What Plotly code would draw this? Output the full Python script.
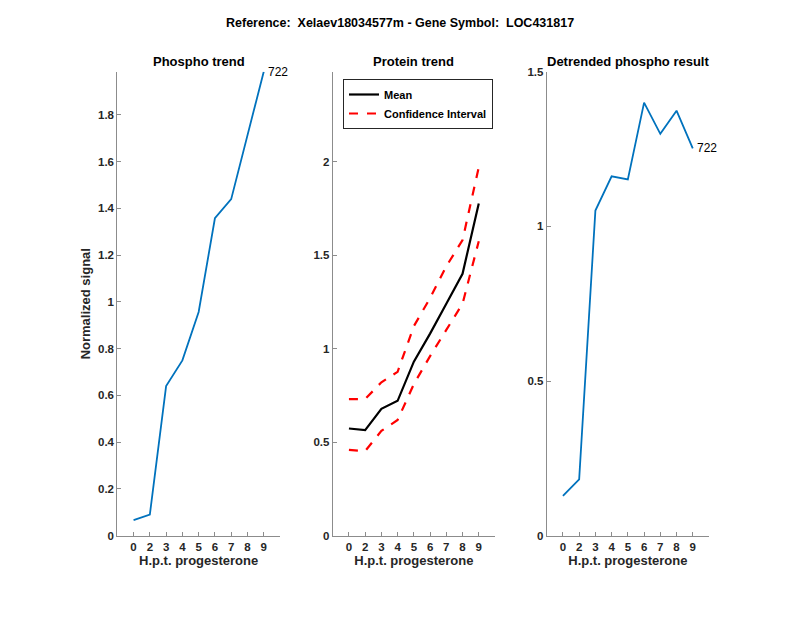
import plotly.graph_objects as go

# ---- data ----
hours = ["0", "2", "3", "4", "5", "6", "7", "8", "9"]
phospho = [0.067, 0.09, 0.64, 0.75, 0.957, 1.358, 1.44, 1.71, 1.985]
protein_mean = [0.573, 0.564, 0.678, 0.721, 0.93, 1.08, 1.24, 1.40, 1.776]
protein_upper = [0.73, 0.73, 0.82, 0.876, 1.12, 1.27, 1.44, 1.58, 1.97]
protein_lower = [0.459, 0.452, 0.56, 0.619, 0.81, 0.96, 1.10, 1.24, 1.574]
detrended = [0.129, 0.182, 1.051, 1.162, 1.152, 1.40, 1.299, 1.374, 1.252]
label_id = "722"

left_ticks = [0, 0.2, 0.4, 0.6, 0.8, 1.0, 1.2, 1.4, 1.6, 1.8]
left_ticktext = ["0", "0.2", "0.4", "0.6", "0.8", "1", "1.2", "1.4", "1.6", "1.8"]
mid_ticks = [0, 0.5, 1.0, 1.5, 2.0]
mid_ticktext = ["0", "0.5", "1", "1.5", "2"]
right_ticks = [0, 0.5, 1.0, 1.5]
right_ticktext = ["0", "0.5", "1", "1.5"]

BLUE = "#0072BD"
FONT = "Liberation Sans, Arial, Helvetica, sans-serif"
TXT = "#262626"
AX = "#8c8c8c"

W, H, OFF = 800, 618, 8


def px_x(X):
    return (X - OFF) / W


def px_y(Y):
    return 1 - (Y - OFF) / H


fig = go.Figure()

fig.add_trace(go.Scatter(x=hours, y=phospho, mode="lines", line=dict(color=BLUE, width=1.8),
                         xaxis="x", yaxis="y", showlegend=False))
fig.add_trace(go.Scatter(x=hours, y=protein_mean, mode="lines", name="Mean",
                         line=dict(color="black", width=2.2), xaxis="x2", yaxis="y2"))
fig.add_trace(go.Scatter(x=hours, y=protein_upper, mode="lines", name="Confidence Interval",
                         line=dict(color="#FF0000", width=2.2, dash="dash"), xaxis="x2", yaxis="y2"))
fig.add_trace(go.Scatter(x=hours, y=protein_lower, mode="lines", name="Confidence Interval",
                         line=dict(color="#FF0000", width=2.2, dash="dash"), xaxis="x2", yaxis="y2",
                         showlegend=False))
fig.add_trace(go.Scatter(x=hours, y=detrended, mode="lines", line=dict(color=BLUE, width=1.8),
                         xaxis="x3", yaxis="y3", showlegend=False))

ydom = [px_y(535.7), px_y(71.7)]
doms = [[px_x(117.3), px_x(280)], [px_x(332.7), px_x(495)], [px_x(546.7), px_x(709)]]


def xax(dom, anchor):
    return dict(domain=dom, anchor=anchor, type="category", range=[-1, 9],
                showline=True, linecolor=AX, linewidth=1, ticks="inside", ticklen=4,
                tickcolor=AX, showgrid=False, zeroline=False, automargin=False,
                tickfont=dict(family=FONT, size=11.5, color=TXT, weight="bold"),
                title=dict(text="<b>H.p.t. progesterone</b>", font=dict(family=FONT, size=13, color=TXT),
                           standoff=4))


def yax(anchor, rng, tv, tt, title=None):
    d = dict(domain=ydom, anchor=anchor, range=rng, tickvals=tv, ticktext=tt,
             showline=True, linecolor=AX, linewidth=1, ticks="inside", ticklen=4,
             tickcolor=AX, showgrid=False, zeroline=False, automargin=False,
             tickfont=dict(family=FONT, size=11.5, color=TXT, weight="bold"))
    if title:
        d["title"] = dict(text="<b>" + title + "</b>", font=dict(family=FONT, size=13, color=TXT), standoff=4)
    return d


fig.update_layout(
    width=W, height=H,
    margin=dict(l=0, r=0, t=0, b=0, pad=0, autoexpand=False),
    paper_bgcolor="white", plot_bgcolor="white",
    font=dict(family=FONT, color=TXT),
    xaxis=xax(doms[0], "y"),
    xaxis2=xax(doms[1], "y2"),
    xaxis3=xax(doms[2], "y3"),
    yaxis=yax("x", [0, 1.985], left_ticks, left_ticktext, "Normalized signal"),
    yaxis2=yax("x2", [0, 2.48], mid_ticks, mid_ticktext),
    yaxis3=yax("x3", [0, 1.5], right_ticks, right_ticktext),
    legend=dict(x=px_x(343), y=px_y(79), xanchor="left", yanchor="top",
                bordercolor="#262626", borderwidth=1, bgcolor="white",
                font=dict(family=FONT, size=11, color="black", weight="bold"),
                tracegroupgap=0, itemwidth=30),
)

titles = ["Phospho trend", "Protein trend", "Detrended phospho result"]
for dom, t in zip(doms, titles):
    fig.add_annotation(text="<b>" + t + "</b>", xref="paper", yref="paper",
                       x=(dom[0] + dom[1]) / 2, y=px_y(61), showarrow=False,
                       font=dict(family=FONT, size=13, color="black"), xanchor="center", yanchor="middle")

fig.add_annotation(text="<b>Reference:  Xelaev18034577m - Gene Symbol:  LOC431817</b>",
                   xref="paper", yref="paper", x=px_x(400), y=px_y(22.5), showarrow=False,
                   font=dict(family=FONT, size=12.5, color="black"), xanchor="center", yanchor="middle")

last = len(hours) - 1
fig.add_annotation(text=label_id, x=last, y=phospho[-1], xref="x", yref="y", showarrow=False,
                   xanchor="left", yanchor="middle", xshift=2,
                   font=dict(family=FONT, size=12, color="black"))
fig.add_annotation(text=label_id, x=last, y=detrended[-1], xref="x3", yref="y3", showarrow=False,
                   xanchor="left", yanchor="middle", xshift=2,
                   font=dict(family=FONT, size=12, color="black"))

fig.write_html("out.html")
